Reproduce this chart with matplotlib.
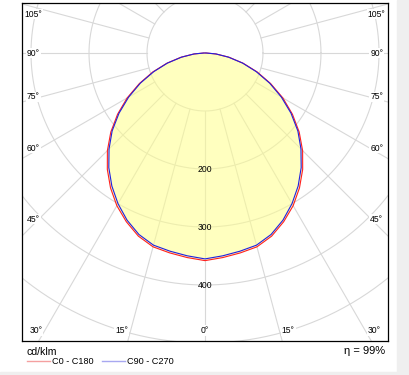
import numpy as np
import matplotlib
matplotlib.use("Agg")
import matplotlib.pyplot as plt
from matplotlib.patches import Rectangle

plt.rcParams['font.family'] = ['Liberation Sans', 'DejaVu Sans']

# gamma angles (deg) and intensities (cd/klm), one half of each plane
gamma = np.arange(0, 95, 5)
c0_c180 = [358, 354, 350, 346, 336, 321, 304, 284, 262, 238, 212, 184, 155, 125, 96, 68, 42, 19, 2]
c90_c270 = [355, 351, 347, 343, 333, 318, 300, 280, 258, 234, 209, 181, 152, 123, 94, 67, 41, 19, 2]

rings = [100, 200, 300, 400, 500]
ring_labels = [200, 300, 400]
angle_labels = [0, 15, 30, 45, 60, 75, 90, 105]
eta = 99

# pixel geometry of the reference (410x375)
W, H = 410, 375
box = (22, 3, 388, 341)       # left, top, right, bottom
cx, cy = 205, 53              # pole position
s = 0.58                      # px per cd/klm


def to_xy(g, I):
    g = np.radians(g)
    return np.asarray(I) * np.sin(g), -np.asarray(I) * np.cos(g)


def full_curve(vals):
    g = np.concatenate([-gamma[::-1], gamma[1:]])
    I = np.concatenate([np.asarray(vals)[::-1], np.asarray(vals)[1:]])
    x, y = to_xy(g, I)
    return np.append(x, 0), np.append(y, 0)


fig = plt.figure(figsize=(W / 100, H / 100), dpi=100)
fig.patches.append(Rectangle((397 / W, 0), 1, 1, transform=fig.transFigure,
                             color="#efefef", zorder=0))
fig.patches.append(Rectangle((0, 0), 1, (H - 372) / H, transform=fig.transFigure,
                             color="#efefef", zorder=0))

ax = fig.add_axes([box[0] / W, (H - box[3]) / H,
                   (box[2] - box[0]) / W, (box[3] - box[1]) / H])
ax.set_xlim((box[0] - cx) / s, (box[2] - cx) / s)
ax.set_ylim(-(box[3] - cy) / s, (cy - box[1]) / s)
ax.set_aspect("equal")
ax.set_xticks([])
ax.set_yticks([])
for sp in ax.spines.values():
    sp.set_linewidth(0.9)
    sp.set_color("black")

grid_col = "#d8d8d8"
t = np.linspace(0, 2 * np.pi, 400)
for r in rings:
    ax.plot(r * np.cos(t), r * np.sin(t), color=grid_col, lw=0.8, zorder=1)
for a in range(0, 360, 15):
    x0, y0 = to_xy(a, 100)
    x1, y1 = to_xy(a, 800)
    ax.plot([x0, x1], [y0, y1], color=grid_col, lw=0.8, zorder=1)

# luminous intensity curves
xr, yr = full_curve(c0_c180)
xb, yb = full_curve(c90_c270)
ax.fill(xr, yr, color="#ffff8c", alpha=0.55, lw=0, zorder=2)
ax.plot(xr, yr, color="#ff2020", lw=0.8, zorder=3)
ax.plot(xb, yb, color="#2020e0", lw=0.8, zorder=4)

for r in ring_labels:
    ax.text(0, -r, str(r), fontsize=6.2, ha="center", va="center", zorder=5)

# angle labels along the frame
xin = 296
ybot = -478
ytop = (cy - 14) / s
for a in angle_labels:
    for side in ([1] if a == 0 else [-1, 1]):
        g = np.radians(a)
        tx = xin / np.sin(g) if np.sin(g) > 1e-9 else np.inf
        ty = -ybot / np.cos(g) if np.cos(g) > 1e-9 else np.inf
        tt = min(tx, ty)
        x = side * tt * np.sin(g)
        y = -tt * np.cos(g)
        if ty < tx:
            x += side * (9 / s if a else 0)
        else:
            y += 8 * np.cos(g) / s
        y = min(y, ytop)
        ax.text(x, y, f"{a}°", fontsize=6.2, ha="center", va="center",
                zorder=6, bbox=dict(fc="white", ec="none", pad=0.6))

# legend area
fig.text(27 / W, 1 - 352 / H, "cd/klm", fontsize=7.6, va="center", ha="left")
ly = 1 - 361 / H
fig.add_artist(plt.Line2D([27 / W, 50 / W], [ly, ly], color="#f4a0a0", lw=1.0))
fig.text(52 / W, ly, "C0 - C180", fontsize=6.6, va="center", ha="left")
fig.add_artist(plt.Line2D([102 / W, 125 / W], [ly, ly], color="#a8a8f0", lw=1.0))
fig.text(127 / W, ly, "C90 - C270", fontsize=6.6, va="center", ha="left")
fig.text(385 / W, 1 - 351 / H, f"η = {eta}%", fontsize=8, va="center", ha="right")

fig.savefig("out.png", dpi=100)
